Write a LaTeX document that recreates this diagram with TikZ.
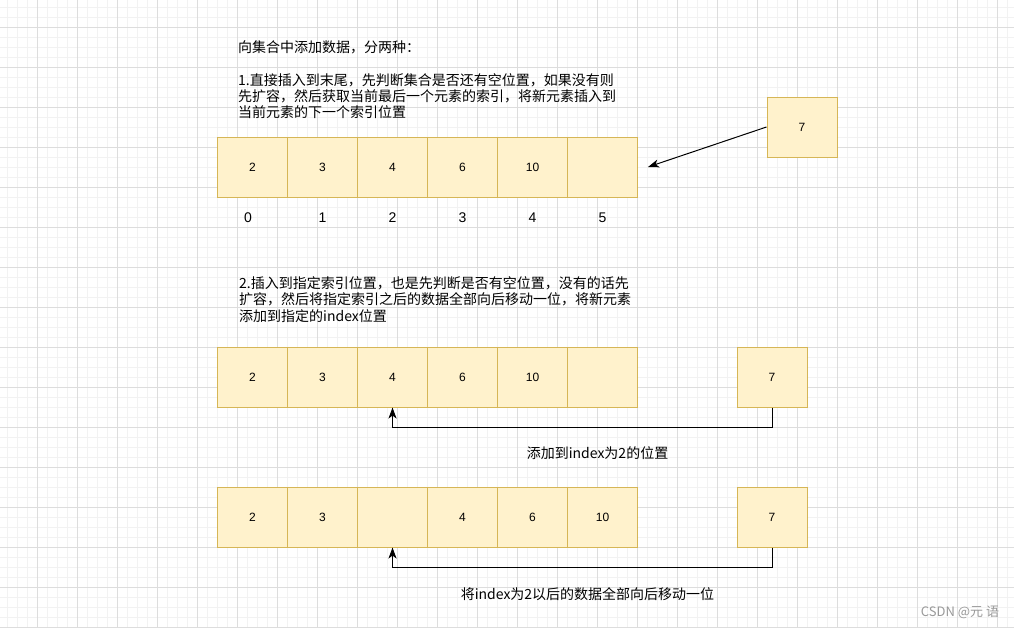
\documentclass[tikz,border=0pt]{standalone}
\usepackage{fontspec}
\usetikzlibrary{arrows.meta}
\setmainfont{Liberation Sans}
\newfontfamily\cjk{Noto Sans CJK SC}
\definecolor{cellfill}{HTML}{FFF2CC}
\definecolor{celldraw}{HTML}{D6B656}
\definecolor{minorline}{HTML}{F2F2F2}
\definecolor{majorline}{HTML}{DDDDDD}
\begin{document}
\begin{tikzpicture}[x=1pt, y=-1pt, >={Stealth[length=11pt, width=8pt, inset=3pt]},
  cell/.style={draw=celldraw, fill=cellfill, line width=1pt, minimum width=70pt, minimum height=60pt, inner sep=0pt, font=\fontsize{12}{14}\selectfont},
  idx/.style={inner sep=0pt, font=\fontsize{14}{16}\selectfont},
  note/.style={inner sep=0pt, align=left, anchor=west, font=\cjk\fontsize{14}{16.3}\selectfont},
  link/.style={->, line width=1pt}]
\useasboundingbox (0,0) rectangle (1014,627);
\fill[white] (0,0) rectangle (1014,627);
\foreach \gx in {7,17,...,1010} \draw[minorline, line width=1pt] (\gx,0) -- (\gx,627);
\foreach \gy in {7,17,...,627} \draw[minorline, line width=1pt] (0,\gy) -- (1014,\gy);
\foreach \gx in {37,77,...,1010} \draw[majorline, line width=1pt] (\gx,0) -- (\gx,627);
\foreach \gy in {27,67,...,627} \draw[majorline, line width=1pt] (0,\gy) -- (1014,\gy);

\node (title) at (238,47) [note] {向集合中添加数据，分两种：};
\node (case1) at (238,96) [note] {1.直接插入到末尾，先判断集合是否还有空位置，如果没有则\\先扩容，然后获取当前最后一个元素的索引，将新元素插入到\\当前元素的下一个索引位置};

\node (a0) at (252.5,167) [cell] {2};
\node (a1) at (322.5,167) [cell] {3};
\node (a2) at (392.5,167) [cell] {4};
\node (a3) at (462.5,167) [cell] {6};
\node (a4) at (532.5,167) [cell] {10};
\node (a5) at (602.5,167) [cell] {};
\node (anew) at (802,127) [cell] {7};
\coordinate (aend) at (648,167);
\draw[link] (anew.west) -- (aend);

\node (i0) at (248,218) [idx] {0};
\node (i1) at (322.5,218) [idx] {1};
\node (i2) at (392.5,218) [idx] {2};
\node (i3) at (462.5,218) [idx] {3};
\node (i4) at (532.5,218) [idx] {4};
\node (i5) at (602.5,218) [idx] {5};

\node (case2) at (239,299.5) [note] {2.插入到指定索引位置，也是先判断是否有空位置，没有的话先\\扩容，然后将指定索引之后的数据全部向后移动一位，将新元素\\添加到指定的index位置};

\node (b0) at (252.5,377) [cell] {2};
\node (b1) at (322.5,377) [cell] {3};
\node (b2) at (392.5,377) [cell] {4};
\node (b3) at (462.5,377) [cell] {6};
\node (b4) at (532.5,377) [cell] {10};
\node (b5) at (602.5,377) [cell] {};
\node (bnew) at (772,377) [cell] {7};
\draw[link] (bnew.south) -- ++(0,20) -| (b2.south);
\node (note2) at (597.5,453) [note, anchor=center] {添加到index为2的位置};

\node (c0) at (252.5,517) [cell] {2};
\node (c1) at (322.5,517) [cell] {3};
\node (c2) at (392.5,517) [cell] {};
\node (c3) at (462.5,517) [cell] {4};
\node (c4) at (532.5,517) [cell] {6};
\node (c5) at (602.5,517) [cell] {10};
\node (cnew) at (772,517) [cell] {7};
\draw[link] (cnew.south) -- ++(0,20) -| (c2.south);
\node (note3) at (587.5,594) [note, anchor=center] {将index为2以后的数据全部向后移动一位};

\node (mark) at (960,612) [inner sep=0pt, text=gray!80, font=\cjk\fontsize{13}{15}\selectfont] {CSDN @元 语};
\end{tikzpicture}
\end{document}
